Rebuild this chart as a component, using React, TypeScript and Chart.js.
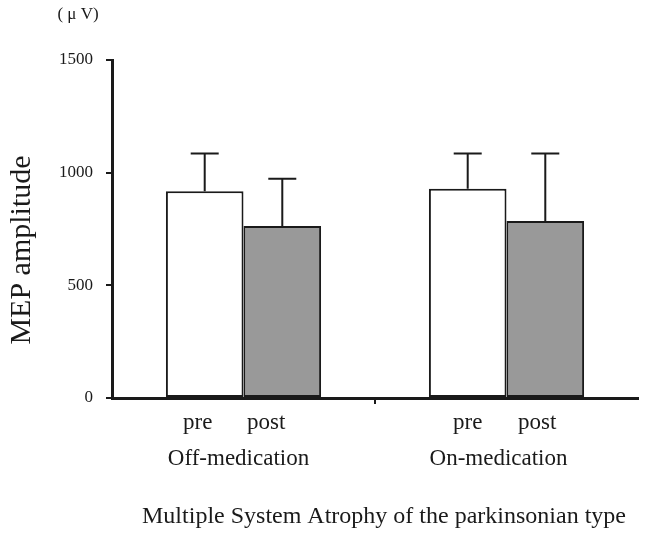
import React, { useEffect, useRef } from "react";
import { Chart, registerables } from "chart.js";

Chart.register(...registerables);

const groups = ["Off-medication", "On-medication"];
const phases = ["pre", "post"];
const preMean = [918, 929];
const postMean = [763, 785];
const preSD = [167, 156];
const postSD = [210, 300];
const yTicks = [0, 500, 1000, 1500];
const yTitle = "MEP amplitude";
const unitLabel = "( μ V)";
const xTitle = "Multiple System Atrophy of the parkinsonian type";

const FONT = "'Liberation Serif', 'Times New Roman', serif";
const INK = "#1a1a1a";

const errorBarPlugin = {
  id: "errorBars",
  afterDatasetsDraw(chart: any) {
    const ctx = chart.ctx;
    const yScale = chart.scales.y;
    const means = [preMean, postMean];
    const sds = [preSD, postSD];
    ctx.save();
    ctx.strokeStyle = INK;
    ctx.lineWidth = 2;
    for (let d = 0; d < 2; d++) {
      const meta = chart.getDatasetMeta(d);
      meta.data.forEach((el: any, i: number) => {
        const x = el.x;
        const yTop = el.y;
        const yErr = yScale.getPixelForValue(means[d][i] + sds[d][i]);
        ctx.beginPath();
        ctx.moveTo(x, yTop);
        ctx.lineTo(x, yErr);
        ctx.moveTo(x - 14, yErr);
        ctx.lineTo(x + 14, yErr);
        ctx.stroke();
      });
    }
    ctx.restore();
  },
};

const labelPlugin = {
  id: "textLabels",
  afterDraw(chart: any) {
    const ctx = chart.ctx;
    const xScale = chart.scales.x;
    const area = chart.chartArea;
    ctx.save();
    ctx.fillStyle = INK;
    ctx.textAlign = "center";
    ctx.textBaseline = "alphabetic";

    // phase labels under each bar
    const phaseOffsets = [
      [-7, -16],
      [0, -8],
    ];
    ctx.font = `23px ${FONT}`;
    for (let d = 0; d < 2; d++) {
      const meta = chart.getDatasetMeta(d);
      meta.data.forEach((el: any, i: number) => {
        ctx.fillText(phases[d], el.x + phaseOffsets[i][d], area.bottom + 31);
      });
    }

    // group labels
    const groupOffsets = [-5, -8];
    groups.forEach((g, i) => {
      const x = xScale.getPixelForValue(i);
      ctx.fillText(g, x + groupOffsets[i], area.bottom + 67);
    });

    // x title
    ctx.font = `24px ${FONT}`;
    ctx.fillText(xTitle, (area.left + area.right) / 2 + 9, area.bottom + 125);

    // unit label
    ctx.font = `17px ${FONT}`;
    ctx.fillText(unitLabel, 78, 19);

    // y title
    ctx.font = `30px ${FONT}`;
    ctx.translate(30, (area.top + area.bottom) / 2 + 21);
    ctx.rotate(-Math.PI / 2);
    ctx.fillText(yTitle, 0, 0);
    ctx.restore();
  },
};

export default function App() {
  const canvasRef = useRef<HTMLCanvasElement | null>(null);

  useEffect(() => {
    if (!canvasRef.current) return;
    const chart = new Chart(canvasRef.current, {
      type: "bar",
      data: {
        labels: groups,
        datasets: [
          {
            label: phases[0],
            data: preMean,
            backgroundColor: "#ffffff",
            borderColor: INK,
            borderWidth: 2,
            borderSkipped: false,
          },
          {
            label: phases[1],
            data: postMean,
            backgroundColor: "#999999",
            borderColor: INK,
            borderWidth: 2,
            borderSkipped: false,
          },
        ],
      },
      options: {
        responsive: false,
        animation: false,
        layout: { padding: { top: 60, right: 8, left: 0, bottom: 0 } },
        datasets: {
          bar: { categoryPercentage: 0.59, barPercentage: 1.0 },
        },
        plugins: {
          legend: { display: false },
          tooltip: { enabled: false },
          title: { display: false },
        },
        scales: {
          x: {
            type: "category",
            offset: true,
            ticks: { display: false },
            grid: {
              display: true,
              offset: true,
              drawOnChartArea: false,
              drawTicks: true,
              tickLength: 6,
              lineWidth: 2,
              color: (c: any) => (c.index === 1 ? INK : "rgba(0,0,0,0)"),
            },
            border: { display: true, color: INK, width: 3 },
            afterFit: (scale: any) => {
              scale.height = 135;
            },
          },
          y: {
            min: 0,
            max: 1500,
            afterBuildTicks: (scale: any) => {
              scale.ticks = yTicks.map((v) => ({ value: v }));
            },
            ticks: {
              color: INK,
              font: { family: FONT, size: 17 },
              padding: 13,
              callback: (v: any) => String(v),
            },
            grid: {
              display: true,
              drawOnChartArea: false,
              drawTicks: true,
              tickLength: 6,
              lineWidth: 2,
              color: INK,
            },
            border: { display: true, color: INK, width: 3 },
            afterFit: (scale: any) => {
              scale.width = 112;
            },
          },
        },
      },
      plugins: [errorBarPlugin, labelPlugin],
    });
    return () => chart.destroy();
  }, []);

  return (
    <div
      style={{
        position: "absolute",
        left: 0,
        top: 0,
        width: 646,
        height: 533,
        background: "#ffffff",
      }}
    >
      <canvas
        ref={canvasRef}
        width={646}
        height={533}
        style={{ display: "block", width: 646, height: 533 }}
      />
    </div>
  );
}
